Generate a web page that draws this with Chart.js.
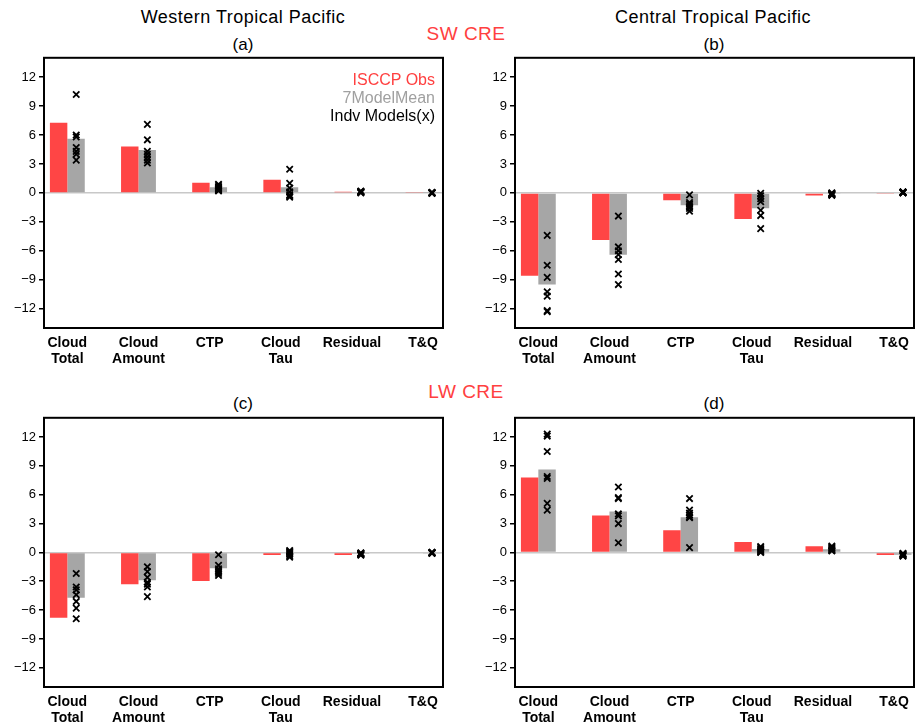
<!DOCTYPE html>
<html>
<head>
<meta charset="utf-8">
<script src="https://cdn.jsdelivr.net/npm/chart.js@4.4.0/dist/chart.umd.min.js"></script>
<style>
  body { margin: 0; background: #fff; overflow: hidden; width: 923px; height: 725px; position: relative; }
  canvas { position: absolute; }
  .txt { position: absolute; transform: translate(-50%, -50%); white-space: nowrap;
         font-family: 'Liberation Sans', Arial, sans-serif; color: #000; }
  .title { font-size: 18px; letter-spacing: 0.5px; }
  .sub { font-size: 17px; }
  .cre { font-size: 19px; color: #ff4040; letter-spacing: 0.5px; }
  .leg { position: absolute; right: 488px; font-family: 'Liberation Sans', Arial, sans-serif;
         font-size: 16px; transform: translateY(-50%); white-space: nowrap; }
</style>
</head>
<body>
<div class="txt title" style="left:243px; top:17px;">Western Tropical Pacific</div>
<div class="txt title" style="left:713px; top:17px;">Central Tropical Pacific</div>
<div class="txt sub" style="left:243px; top:45px;">(a)</div>
<div class="txt sub" style="left:714px; top:45px;">(b)</div>
<div class="txt cre" style="left:466px; top:34px;">SW CRE</div>
<div class="txt cre" style="left:466px; top:392px;">LW CRE</div>
<div class="txt sub" style="left:243px; top:404px;">(c)</div>
<div class="txt sub" style="left:714px; top:404px;">(d)</div>

<canvas id="chartA" width="460" height="330" style="left:0; top:47px;"></canvas>
<canvas id="chartB" width="452" height="330" style="left:471px; top:47px;"></canvas>
<canvas id="chartC" width="460" height="318" style="left:0; top:407px;"></canvas>
<canvas id="chartD" width="452" height="318" style="left:471px; top:407px;"></canvas>

<div class="leg" style="top:80px; color:#ff4040;">ISCCP Obs</div>
<div class="leg" style="top:98px; color:#a0a0a0;">7ModelMean</div>
<div class="leg" style="top:116px; color:#000;">Indv Models(x)</div>

<script>
  // categories and tick labels
  const categories = [['Cloud', 'Total'], ['Cloud', 'Amount'], 'CTP', ['Cloud', 'Tau'], 'Residual', 'T&Q'];
  const yTicks = [-12, -9, -6, -3, 0, 3, 6, 9, 12];

  // (a) SW CRE, Western Tropical Pacific
  const swWtpObs = [7.26, 4.8, 1.06, 1.37, 0.12, 0.05];
  const swWtpMean = [5.6, 4.45, 0.58, 0.58, 0.1, 0.02];
  const swWtpModels = [
    [10.2, 6.0, 5.8, 4.7, 4.3, 4.0, 3.4],
    [7.1, 5.5, 4.3, 4.0, 3.7, 3.4, 3.1],
    [0.9, 0.75, 0.6, 0.5, 0.4, 0.3, 0.2],
    [2.45, 1.0, 0.5, 0.1, -0.2, -0.35, -0.45],
    [0.2, 0.15, 0.1, 0.05, 0.0, 0.1, 0.15],
    [0.05, 0.0, -0.05, 0.02, 0.0, 0.03, -0.02]
  ];

  // (b) SW CRE, Central Tropical Pacific
  const swCtpObs = [-8.58, -4.87, -0.76, -2.7, -0.27, -0.05];
  const swCtpMean = [-9.5, -6.42, -1.27, -1.58, -0.12, 0.0];
  const swCtpModels = [
    [-4.4, -7.5, -8.75, -10.25, -10.7, -12.2, -12.3],
    [-2.4, -5.6, -6.0, -6.4, -6.9, -8.4, -9.5],
    [-0.2, -1.0, -1.15, -1.3, -1.45, -1.6, -1.9],
    [-0.05, -0.3, -0.6, -0.9, -1.8, -2.35, -3.7],
    [0.0, -0.1, -0.15, -0.2, -0.25, -0.1, -0.05],
    [0.1, 0.05, 0.0, 0.05, 0.1, 0.0, 0.05]
  ];

  // (c) LW CRE, Western Tropical Pacific
  const lwWtpObs = [-6.8, -3.3, -2.97, -0.28, -0.28, -0.08];
  const lwWtpMean = [-4.72, -2.9, -1.66, -0.1, -0.15, -0.05];
  const lwWtpModels = [
    [-2.2, -3.6, -3.9, -4.4, -5.1, -5.8, -6.9],
    [-1.5, -2.0, -2.6, -3.1, -3.3, -3.6, -4.6],
    [-0.25, -1.35, -1.7, -1.9, -2.05, -2.2, -2.4],
    [0.2, 0.1, 0.0, -0.1, -0.2, -0.35, -0.5],
    [-0.05, -0.1, -0.15, -0.2, -0.25, -0.3, -0.1],
    [0.0, -0.05, -0.1, -0.05, 0.0, -0.08, -0.03]
  ];

  // (d) LW CRE, Central Tropical Pacific
  const lwCtpObs = [7.8, 3.83, 2.3, 1.07, 0.65, -0.28];
  const lwCtpMean = [8.63, 4.25, 3.66, 0.35, 0.33, -0.25];
  const lwCtpModels = [
    [12.3, 12.1, 10.5, 7.9, 7.7, 5.1, 4.4],
    [6.8, 5.7, 5.6, 4.0, 3.8, 3.0, 1.0],
    [5.6, 4.4, 4.1, 3.9, 3.7, 3.6, 0.5],
    [0.6, 0.5, 0.35, 0.25, 0.15, 0.05, 0.0],
    [0.65, 0.55, 0.45, 0.35, 0.25, 0.2, 0.15],
    [-0.1, -0.15, -0.2, -0.25, -0.3, -0.35, -0.4]
  ];

  const RED = '#ff4545';
  const GRAY = '#a6a6a6';

  // black frame round the plot area
  const framePlugin = {
    id: 'frame',
    afterDraw(chart) {
      const { ctx, chartArea: a } = chart;
      ctx.save();
      ctx.strokeStyle = '#000';
      ctx.lineWidth = 2;
      ctx.strokeRect(a.left, a.top, a.right - a.left, a.bottom - a.top);
      ctx.restore();
    }
  };

  function makePanel(id, obs, mean, models, opts) {
    const ctx = document.getElementById(id).getContext('2d');
    const points = [];
    models.forEach(function(vals, i) {
      vals.forEach(function(v) { points.push({ x: i + 0.125, y: v }); });
    });

    new Chart(ctx, {
      type: 'bar',
      data: {
        datasets: [
          {
            label: 'ISCCP Obs',
            data: obs.map((v, i) => ({ x: i, y: v })),
            backgroundColor: RED,
            categoryPercentage: 0.49,
            barPercentage: 1.0,
            order: 2
          },
          {
            label: '7ModelMean',
            data: mean.map((v, i) => ({ x: i, y: v })),
            backgroundColor: GRAY,
            categoryPercentage: 0.49,
            barPercentage: 1.0,
            order: 2
          },
          {
            type: 'scatter',
            label: 'Indv Models(x)',
            data: points,
            pointStyle: 'crossRot',
            pointRadius: 4.5,
            borderColor: '#000',
            borderWidth: 1.8,
            order: 1
          }
        ]
      },
      options: {
        responsive: false,
        animation: false,
        devicePixelRatio: 1,
        layout: { padding: { top: 10, right: opts.padRight, bottom: 0, left: 0 } },
        plugins: {
          legend: { display: false },
          tooltip: { enabled: false }
        },
        scales: {
          x: {
            type: 'linear',
            min: -0.328,
            max: 5.28,
            offset: false,
            grid: { display: false, drawTicks: false },
            border: { display: false },
            afterBuildTicks: function(axis) {
              axis.ticks = categories.map((c, i) => ({ value: i }));
            },
            afterFit: function(axis) { axis.height = opts.xHeight; },
            ticks: {
              maxRotation: 0,
              autoSkip: false,
              padding: 7,
              color: '#000',
              font: { family: "'Liberation Sans', Arial, sans-serif", size: 14, weight: 'bold', lineHeight: 1.14 },
              callback: function(value, index) { return categories[index]; }
            }
          },
          y: {
            min: -14,
            max: 14,
            border: { display: false },
            grid: {
              color: c => (c.tick && c.tick.value === 0) ? '#c8c8c8' : 'rgba(0,0,0,0)',
              lineWidth: 1.5,
              tickColor: '#000',
              tickLength: 5
            },
            afterBuildTicks: function(axis) {
              axis.ticks = yTicks.map(v => ({ value: v }));
            },
            afterFit: function(axis) { axis.width = 44; },
            ticks: {
              padding: 3,
              color: '#000',
              font: { family: "'Liberation Sans', Arial, sans-serif", size: 13 },
              callback: v => v < 0 ? '\u2212' + Math.abs(v) : String(v)
            }
          }
        }
      },
      plugins: [framePlugin]
    });
  }

  makePanel('chartA', swWtpObs, swWtpMean, swWtpModels, { padRight: 17, xHeight: 49 });
  makePanel('chartB', swCtpObs, swCtpMean, swCtpModels, { padRight: 9, xHeight: 49 });
  makePanel('chartC', lwWtpObs, lwWtpMean, lwWtpModels, { padRight: 17, xHeight: 38 });
  makePanel('chartD', lwCtpObs, lwCtpMean, lwCtpModels, { padRight: 9, xHeight: 38 });
</script>
</body>
</html>
